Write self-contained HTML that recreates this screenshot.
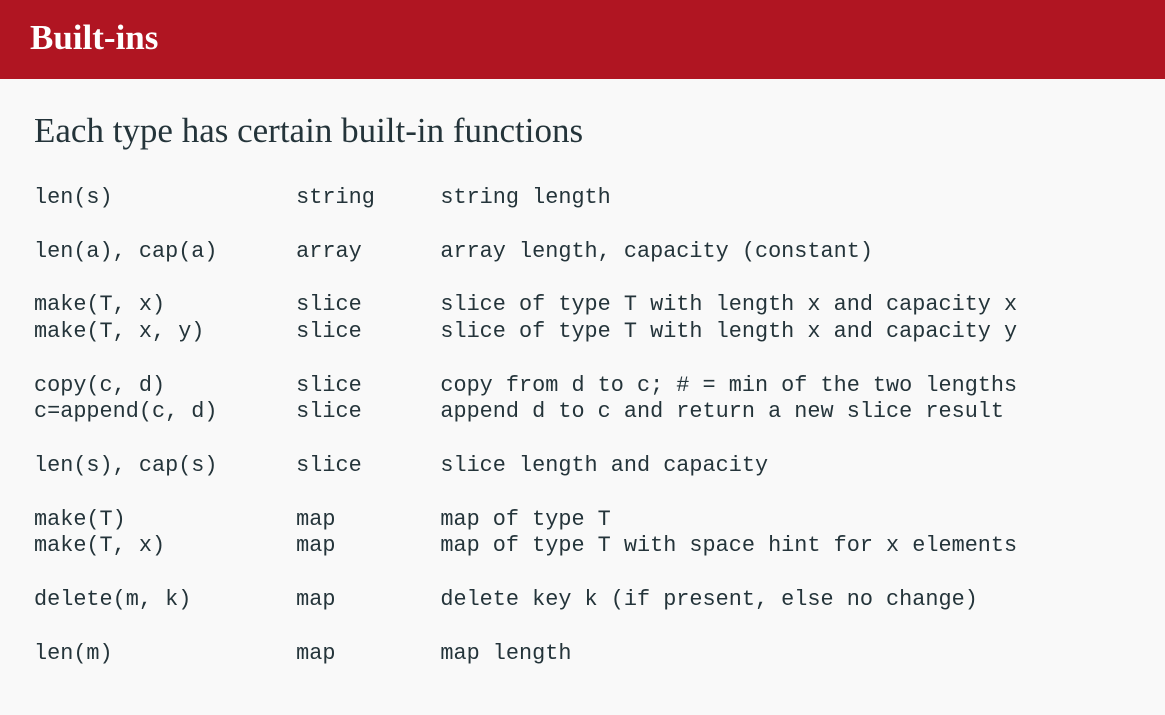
<!DOCTYPE html>
<html><head><meta charset="utf-8"><style>
html,body{margin:0;padding:0;width:1165px;height:715px;overflow:hidden;background:#f9f9f9;}
.hdr{position:absolute;left:0;top:0;width:1165px;height:79px;background:#b01522;}
.hdr h1{position:absolute;left:30px;top:18px;margin:0;font:bold 35px/40px "Liberation Serif",serif;color:#fff;}
.sub{position:absolute;left:34px;top:110px;margin:0;font:35px/42px "Liberation Serif",serif;color:#24343a;}
pre{position:absolute;left:34px;top:185px;margin:0;font:21.85px/26.8px "Liberation Mono",monospace;color:#24343a;}
</style></head><body>
<div class="hdr"><h1>Built-ins</h1></div>
<p class="sub">Each type has certain built-in functions</p>
<pre>len(s)              string     string length

len(a), cap(a)      array      array length, capacity (constant)

make(T, x)          slice      slice of type T with length x and capacity x
make(T, x, y)       slice      slice of type T with length x and capacity y

copy(c, d)          slice      copy from d to c; # = min of the two lengths
c=append(c, d)      slice      append d to c and return a new slice result

len(s), cap(s)      slice      slice length and capacity

make(T)             map        map of type T
make(T, x)          map        map of type T with space hint for x elements

delete(m, k)        map        delete key k (if present, else no change)

len(m)              map        map length</pre>
</body></html>
